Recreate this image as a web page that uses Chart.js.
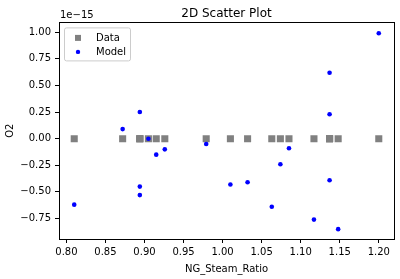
<!DOCTYPE html>
<html>
<head>
<meta charset="utf-8">
<script src="https://cdn.jsdelivr.net/npm/chart.js@4/dist/chart.umd.min.js"></script>
<style>
  html, body { margin: 0; padding: 0; background: #fff; }
  #wrap { width: 400px; height: 279px; position: relative; }
</style>
</head>
<body>
<div id="wrap"><canvas id="c" width="400" height="279"></canvas></div>
<script>
// NG_Steam_Ratio values (shared by Data and Model)
const ngSteamRatio = [0.81, 0.872, 0.894, 0.894, 0.894, 0.905, 0.915, 0.926, 0.979, 1.010,
                      1.032, 1.063, 1.074, 1.085, 1.117, 1.137, 1.137, 1.137, 1.148, 1.200];
// O2 values, in units of 1e-15
const dataO2  = [0, 0, 0, 0, 0, 0, 0, 0, 0, 0, 0, 0, 0, 0, 0, 0, 0, 0, 0, 0];
const modelO2 = [-0.62, 0.09, 0.25, -0.45, -0.53, 0.00, -0.15, -0.10, -0.05, -0.43,
                 -0.41, -0.64, -0.24, -0.09, -0.76, 0.62, 0.23, -0.39, -0.85, 0.99];
const xTicks = [0.80, 0.85, 0.90, 0.95, 1.00, 1.05, 1.10, 1.15, 1.20];
const yTicks = [-0.75, -0.50, -0.25, 0.00, 0.25, 0.50, 0.75, 1.00];
const offsetText = '1e\u221215';

const FONT = 'DejaVu Sans';

const toPts = (xs, ys) => xs.map((x, i) => ({ x: x, y: ys[i] }));
const fmt = v => (v < 0 ? '\u2212' : '') + Math.abs(v).toFixed(2);

const framePlugin = {
  id: 'frameAndLegend',
  afterDraw(chart) {
    const ctx = chart.ctx;
    const a = chart.chartArea;
    ctx.save();
    // frame
    ctx.strokeStyle = '#000';
    ctx.lineWidth = 1;
    ctx.strokeRect(Math.round(a.left) + 0.5, Math.round(a.top) + 0.5,
                   Math.round(a.right - a.left), Math.round(a.bottom - a.top));
    // offset text
    ctx.fillStyle = '#000';
    ctx.font = '10px "' + FONT + '"';
    ctx.textAlign = 'left';
    ctx.textBaseline = 'bottom';
    ctx.fillText(offsetText, a.left + 1, a.top - 2);
    // legend
    const lx = a.left + 5, ly = a.top + 5, lw = 66, lh = 33;
    ctx.beginPath();
    if (ctx.roundRect) ctx.roundRect(lx + 0.5, ly + 0.5, lw, lh, 2); else ctx.rect(lx + 0.5, ly + 0.5, lw, lh);
    ctx.fillStyle = 'rgba(255,255,255,0.8)';
    ctx.fill();
    ctx.strokeStyle = '#cccccc';
    ctx.stroke();
    const ds = chart.data.datasets;
    // Data entry
    ctx.fillStyle = ds[0].backgroundColor;
    ctx.fillRect(lx + 11, ly + 7.5, 6, 6);
    // Model entry
    ctx.beginPath();
    ctx.arc(lx + 14, ly + 24.5, 2.2, 0, Math.PI * 2);
    ctx.fillStyle = ds[1].backgroundColor;
    ctx.fill();
    ctx.fillStyle = '#000';
    ctx.textBaseline = 'middle';
    ctx.fillText(ds[0].label, lx + 32, ly + 11);
    ctx.fillText(ds[1].label, lx + 32, ly + 25);
    ctx.restore();
  }
};

new Chart(document.getElementById('c'), {
  type: 'scatter',
  data: {
    datasets: [
      {
        label: 'Data',
        data: toPts(ngSteamRatio, dataO2),
        pointStyle: 'rect',
        pointRadius: 5,
        backgroundColor: '#808080',
        borderColor: '#808080',
        borderWidth: 0,
        order: 1
      },
      {
        label: 'Model',
        data: toPts(ngSteamRatio, modelO2),
        pointStyle: 'circle',
        pointRadius: 2.3,
        backgroundColor: '#0000ff',
        borderColor: '#0000ff',
        borderWidth: 0,
        order: 0
      }
    ]
  },
  options: {
    responsive: false,
    animation: false,
    devicePixelRatio: 1,
    layout: { padding: { left: 0, right: 6, top: 0, bottom: 0 } },
    plugins: {
      legend: { display: false },
      tooltip: { enabled: false },
      title: {
        display: true,
        text: '2D Scatter Plot',
        fullSize: false,
        color: '#000',
        font: { family: FONT, size: 12, weight: 'normal' },
        padding: { top: 7, bottom: 1 }
      }
    },
    scales: {
      x: {
        type: 'linear',
        min: 0.7905,
        max: 1.2195,
        afterBuildTicks: s => { s.ticks = xTicks.map(v => ({ value: v })); },
        ticks: {
          color: '#000',
          font: { family: FONT, size: 10 },
          padding: 3,
          maxRotation: 0,
          autoSkip: false,
          callback: v => fmt(v)
        },
        grid: { drawOnChartArea: false, drawTicks: true, tickLength: 4, color: '#000' },
        border: { display: true, color: '#000' },
        title: {
          display: true,
          text: 'NG_Steam_Ratio',
          color: '#000',
          font: { family: FONT, size: 10 },
          padding: { top: 2, bottom: 4 }
        }
      },
      y: {
        type: 'linear',
        min: -0.9425,
        max: 1.0925,
        afterBuildTicks: s => { s.ticks = yTicks.map(v => ({ value: v })); },
        afterFit: s => { s.width = 59; },
        ticks: {
          color: '#000',
          font: { family: FONT, size: 10 },
          padding: 4,
          autoSkip: false,
          callback: v => fmt(v)
        },
        grid: { drawOnChartArea: false, drawTicks: true, tickLength: 4, color: '#000' },
        border: { display: true, color: '#000' },
        title: {
          display: true,
          text: 'O2',
          color: '#000',
          font: { family: FONT, size: 10 },
          padding: { top: 4, bottom: 2 }
        }
      }
    }
  },
  plugins: [framePlugin]
});
</script>
</body>
</html>
